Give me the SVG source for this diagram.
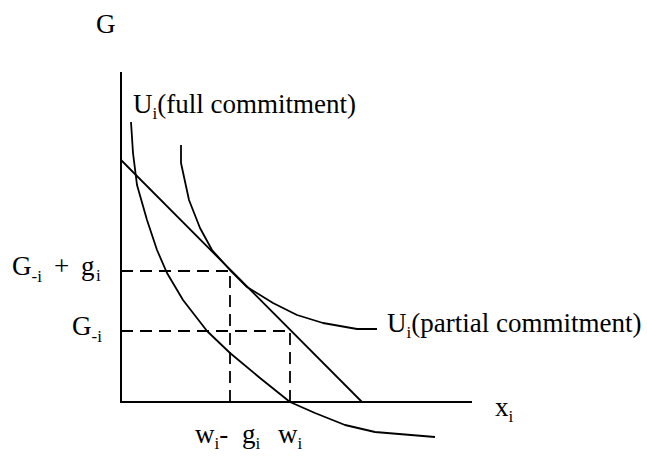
<svg xmlns="http://www.w3.org/2000/svg" width="647" height="459" viewBox="0 0 647 459">
<style>
text{font-family:'Liberation Serif','DejaVu Serif',serif;font-size:27px;fill:#000}
.s{font-size:17px}
.ln{fill:none;stroke:#000;stroke-width:2}
.cv{fill:none;stroke:#000;stroke-width:1.8;stroke-linejoin:round}
.da{fill:none;stroke:#000;stroke-width:1.8;stroke-dasharray:12,7}
</style>
<rect width="647" height="459" fill="#fff"/>
<g id="axes">
<line class="ln" x1="121" y1="72" x2="121" y2="403"/>
<line class="ln" x1="120" y1="402" x2="472" y2="402"/>
</g>
<g id="connectors">
<line class="cv" x1="121" y1="160" x2="362" y2="402"/>
<polyline class="da" points="121,271 230,271 230,402"/>
<polyline class="da" points="121,331 290,331 290,402"/>
</g>
<g id="full-commitment">
<path class="cv" d="M131,122 L133,153 L137,185 L147,220 L157,250 L167,273 L183,300 L207,331 L230,353 L260,378 L290,402 L315,413 L345,425 L375,432 L435,437"/>
<text x="133" y="113">U<tspan class="s" dy="6">i</tspan><tspan dy="-6">(full commitment)</tspan></text>
</g>
<g id="partial-commitment">
<path class="cv" d="M181,145 L181,163 L189,200 L200,228 L212,250 L230,270 L247,287 L273,303 L297,315 L323,323 L357,329 L377,329"/>
<text x="387" y="332">U<tspan class="s" dy="6">i</tspan><tspan dy="-6">(partial commitment)</tspan></text>
</g>
<g id="labels">
<text x="96" y="33">G</text>
<text x="495" y="416">x<tspan class="s" dy="6">i</tspan></text>
<text x="12" y="275">G<tspan class="s" dy="7">-i</tspan><tspan x="54" dy="-7">+</tspan><tspan x="81">g</tspan><tspan class="s" x="96" dy="6">i</tspan></text>
<text x="72" y="335">G<tspan class="s" dy="7">-i</tspan></text>
<text x="195" y="443">w<tspan class="s" dy="6">i</tspan><tspan dy="-6">-</tspan><tspan x="242">g</tspan><tspan class="s" dy="6">i</tspan><tspan x="278" dy="-6">w</tspan><tspan class="s" dy="6">i</tspan></text>
</g>
</svg>
